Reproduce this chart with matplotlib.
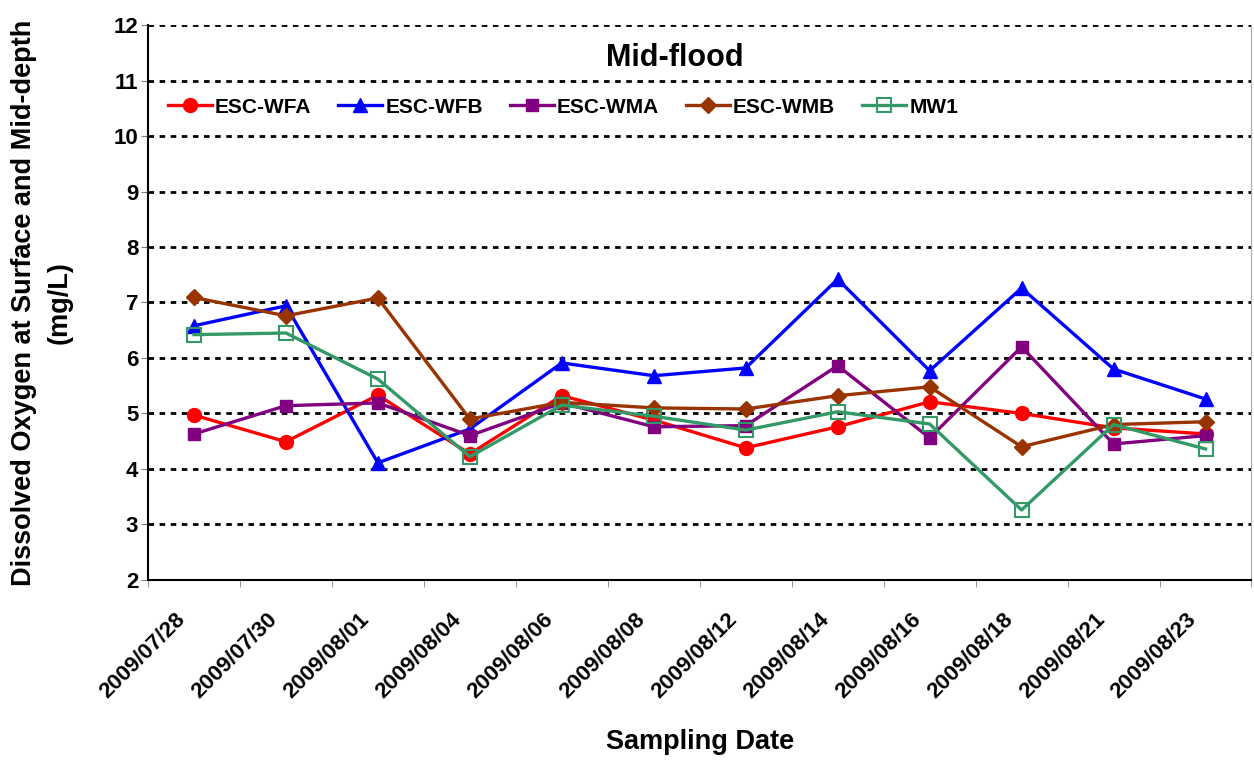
import numpy as np
import matplotlib.pyplot as plt
from matplotlib.transforms import ScaledTranslation

plt.rcParams['font.family'] = ['Liberation Sans', 'DejaVu Sans']
plt.rcParams['font.weight'] = 'bold'

dates = ["2009/07/28", "2009/07/30", "2009/08/01", "2009/08/04", "2009/08/06", "2009/08/08",
         "2009/08/12", "2009/08/14", "2009/08/16", "2009/08/18", "2009/08/21", "2009/08/23"]

esc_wfa = [4.97, 4.49, 5.33, 4.27, 5.32, 4.88, 4.38, 4.76, 5.21, 5.00, 4.74, 4.63]
esc_wfb = [6.58, 6.94, 4.11, 4.72, 5.91, 5.68, 5.82, 7.42, 5.77, 7.26, 5.80, 5.26]
esc_wma = [4.63, 5.14, 5.19, 4.60, 5.19, 4.76, 4.78, 5.86, 4.56, 6.20, 4.45, 4.60]
esc_wmb = [7.09, 6.76, 7.08, 4.90, 5.20, 5.10, 5.08, 5.32, 5.48, 4.40, 4.80, 4.85]
mw1 = [6.42, 6.45, 5.62, 4.22, 5.15, 4.95, 4.70, 5.03, 4.81, 3.26, 4.80, 4.36]

fig = plt.figure(figsize=(12.54, 7.6), dpi=100)
ax = fig.add_axes([0.118, 0.237, 0.880, 0.730])

x = np.arange(len(dates))
ax.plot(x, esc_wfa, color="#FF0000", lw=2.4, marker="o", ms=10, label="ESC-WFA")
ax.plot(x, esc_wfb, color="#0000FF", lw=2.4, marker="^", ms=10, label="ESC-WFB")
ax.plot(x, esc_wma, color="#800080", lw=2.4, marker="s", ms=9, label="ESC-WMA")
ax.plot(x, esc_wmb, color="#993300", lw=2.4, marker="D", ms=8, label="ESC-WMB")
ax.plot(x, mw1, color="#339966", lw=2.4, marker="s", ms=10, mfc="none", mew=1.5, label="MW1")

ax.set_xlim(-0.5, len(dates) - 0.5)
ax.set_ylim(2, 12)
ax.set_yticks(range(2, 13))
ax.yaxis.grid(True, color="black", linestyle=(0, (2, 2)), linewidth=2)
ax.set_axisbelow(True)

# date labels centred on the points, category boundaries as ticks
ax.set_xticks(x)
ax.set_xticklabels(dates, rotation=45, ha="right", va="center", rotation_mode="anchor", fontsize=16)
ax.set_xticks(np.arange(-0.5, len(dates)), minor=True)
ax.tick_params(axis="x", which="major", length=0, pad=26)
ax.tick_params(axis="x", which="minor", length=5, color="gray")
ax.tick_params(axis="y", labelsize=16, length=5, color="gray", pad=2)
shift = ScaledTranslation(-0.12, 0, fig.dpi_scale_trans)
for lab in ax.get_xticklabels():
    lab.set_transform(lab.get_transform() + shift)

ax.spines["top"].set_visible(False)
ax.spines["right"].set_color("#aaaaaa")
ax.spines["left"].set_linewidth(1.5)
ax.spines["bottom"].set_linewidth(1.5)

ax.set_xlabel("Sampling Date", fontsize=19.5, fontweight="bold", va="center")
ax.xaxis.set_label_coords(0.5, -0.292)
ax.set_ylabel("Dissolved Oxygen at Surface and Mid-depth\n(mg/L)", fontsize=19.5,
              fontweight="bold", linespacing=1.5, va="center")
ax.yaxis.set_label_coords(-0.096, 0.5)
ax.text(0.477, 0.94, "Mid-flood", transform=ax.transAxes, ha="center", va="center",
        fontsize=22, fontweight="bold")

ax.legend(loc="center left", bbox_to_anchor=(0.018, 0.852), ncol=5, frameon=False,
          fontsize=15, handlelength=2.1, columnspacing=1.3, handletextpad=0.15,
          borderpad=0, borderaxespad=0)

fig.savefig("out.png", dpi=100)
